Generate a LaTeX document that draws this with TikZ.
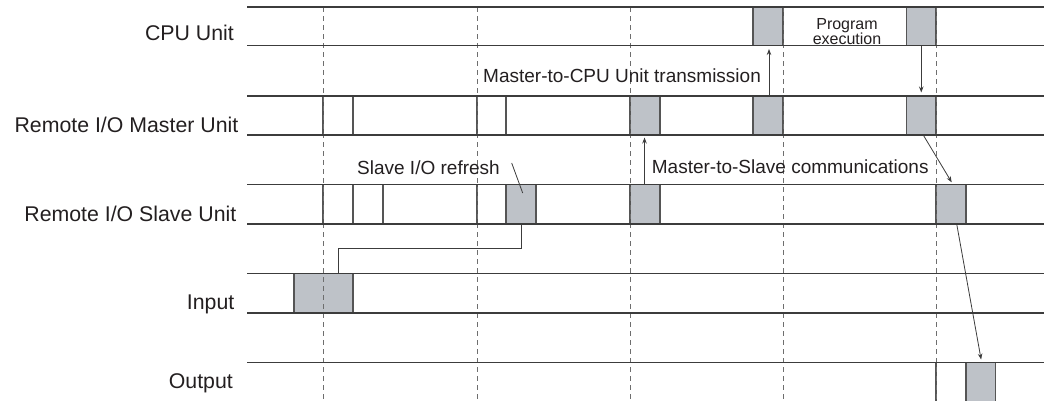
\documentclass[tikz,border=0pt]{standalone}
\usepackage{fontspec}
\setmainfont{Liberation Sans}
\usetikzlibrary{arrows.meta,calc}
\definecolor{boxgray}{RGB}{190,194,200}
\definecolor{linegray}{RGB}{60,60,60}
\definecolor{edgegray}{RGB}{85,85,85}
\definecolor{dashgray}{RGB}{110,110,110}
\definecolor{txt}{RGB}{35,31,32}
\newcommand\tbox[6]{\node[#2, minimum width={(#5)-(#3)}, minimum height={(#6)-(#4)}] (#1) at ({((#3)+(#5))/2},{((#4)+(#6))/2}) {};}
\begin{document}
\begin{tikzpicture}[x=1pt,y=-1pt,
  hline/.style={line width=1.8pt, draw=linegray},
  vdash/.style={line width=0.9pt, draw=dashgray, dash pattern=on 5pt off 4pt},
  gbox/.style={draw=edgegray, line width=1.1pt, fill=boxgray, inner sep=0pt, outer sep=0pt},
  wbox/.style={draw=edgegray, line width=1.1pt, inner sep=0pt, outer sep=0pt},
  rowlabel/.style={font=\fontsize{21.3}{24}\selectfont, text=txt, anchor=base east, inner sep=0pt},
  lab/.style={font=\fontsize{19}{22}\selectfont, text=txt, anchor=base west, inner sep=0pt},
  smalllab/.style={font=\fontsize{16}{15.3}\selectfont, text=txt, align=center, inner sep=0pt},
  arr/.style={-{Stealth[length=6pt,width=4.5pt]}, line width=0.8pt, draw=linegray},
  conn/.style={line width=0.8pt, draw=linegray}]
\useasboundingbox (0,0) rectangle (1044,400);
\clip (0,0) rectangle (1044,400);
% boxes
\tbox{c1}{gbox}{753}{7}{783}{45.5}
\tbox{c2}{gbox}{906.5}{7}{936}{45.5}
\tbox{m0}{wbox}{323}{96}{353}{135}
\tbox{m1}{wbox}{477}{96}{506}{135}
\tbox{m2}{gbox}{630}{96}{660}{135}
\tbox{m3}{gbox}{753}{96}{783}{135}
\tbox{m4}{gbox}{906.5}{96}{936}{135}
\tbox{s0}{wbox}{323}{184.5}{353}{224}
\tbox{s1}{wbox}{353}{184.5}{383}{224}
\tbox{s2}{wbox}{477}{184.5}{506}{224}
\tbox{s3}{gbox}{506}{184.5}{536}{224}
\tbox{s4}{gbox}{630}{184.5}{660}{224}
\tbox{s5}{gbox}{936}{184.5}{966}{224}
\tbox{i1}{gbox}{294}{273.5}{353}{313}
\tbox{o0}{wbox}{936}{362.5}{966}{402}
\tbox{o1}{gbox}{966}{362.5}{995.5}{402}
% dashed time marks
\foreach \x in {323,477,630,783,936} \draw[vdash] (\x,7) -- (\x,400);
% row lines
\foreach \y in {7,45.5,96,135,184.5,224,273.5,313,362.5} \draw[hline] (247,\y) -- (1044,\y);
% row labels
\node[rowlabel] (lcpu) at (234,40.5) {CPU Unit};
\node[rowlabel] (lmas) at (238.5,132) {Remote I/O Master Unit};
\node[rowlabel] (lsla) at (236.5,221.5) {Remote I/O Slave Unit};
\node[rowlabel] (linp) at (234.5,309.5) {Input};
\node[rowlabel] (lout) at (233,388.3) {Output};
% inner labels
\node[lab] (lmc) at (483,82.5) {Master-to-CPU Unit transmission};
\node[lab] (lms) at (651.7,173.3) {Master-to-Slave communications};
\node[lab] (lsr) at (357,174.3) {Slave I/O refresh};
\node[smalllab] (lpe) at (847,31.5) {Program\\execution};
% connectors
\draw[conn] (s3.south) -- ++(0,24.3) -| ($(i1.north west)+(44.7,0)$);
\coordinate (ldr) at (511.7,163);
\draw[conn] (ldr) -- ($(s3.center)+(1.7,-11.2)$);
\draw[arr, shorten >=2.5pt] ($(s4.north)+(-0.5,0)$) -- ($(m2.south)+(-0.5,0)$);
\draw[arr, shorten >=3.5pt] ($(m3.north)+(1,0)$) -- ($(c1.south)+(1,0)$);
\draw[arr, shorten >=3.5pt] (c2.south) -- (m4.north);
\draw[arr, shorten >=2.5pt] ($(m4.south)+(2,0)$) -- ($(s5.north)+(2,0)$);
\draw[arr, shorten >=3pt] ($(s5.south)+(5.7,0)$) -- ($(o1.north)+(0.9,0)$);
\end{tikzpicture}
\end{document}
